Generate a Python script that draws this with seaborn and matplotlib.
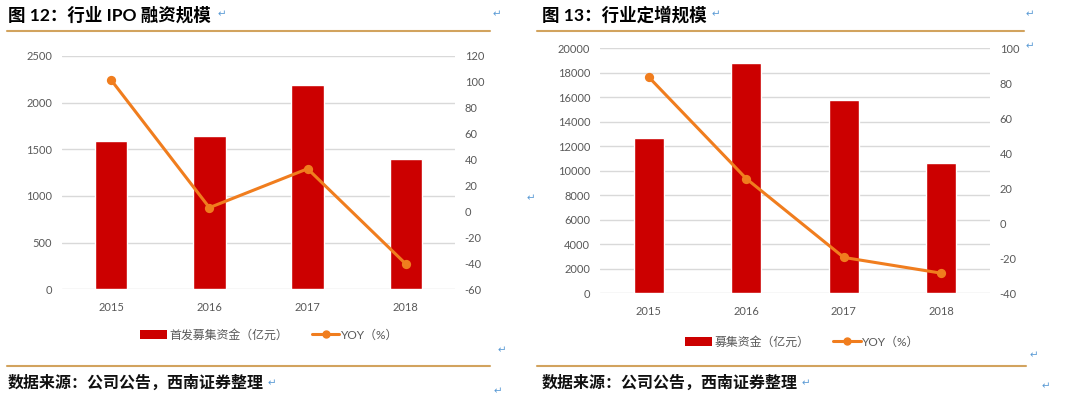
import numpy as np
import pandas as pd
import seaborn as sns
import matplotlib.pyplot as plt
from matplotlib.patches import Patch
from matplotlib.lines import Line2D

# -------------------- Data --------------------
years = ['2015', '2016', '2017', '2018']

ipo_amount = [1588, 1645, 2189, 1392]        # 首发募集资金（亿元）
ipo_yoy = [101.5, 3.0, 33.0, -40.5]          # YOY（%）

placement_amount = [12680, 18780, 15760, 10660]  # 募集资金（亿元）
placement_yoy = [83.5, 25.5, -19.5, -28.5]       # YOY（%）

ipo_ticks = [0, 500, 1000, 1500, 2000, 2500]
ipo_yoy_ticks = [-60, -40, -20, 0, 20, 40, 60, 80, 100, 120]
placement_ticks = list(range(0, 20001, 2000))
placement_yoy_ticks = [-40, -20, 0, 20, 40, 60, 80, 100]

# -------------------- Style --------------------
sns.set_theme(style='white')
plt.rcParams['font.family'] = ['Lato', 'Noto Sans CJK SC', 'DejaVu Sans']
plt.rcParams['axes.unicode_minus'] = False

BAR_RED = '#CC0000'
LINE_ORANGE = '#F07D1E'
GRID = '#D9D9D9'
TICK_GRAY = '#595959'
GOLD = '#D2A35E'
MARK_BLUE = '#5B9BD5'

W, H = 1080, 403
fig = plt.figure(figsize=(W / 100, H / 100), dpi=100)


def px(x, y):
    return x / W, 1 - y / H


def draw_panel(rect, amounts, yoy, yticks, y2ticks, bar_width):
    ax = fig.add_axes(rect)
    df = pd.DataFrame({'year': years, 'amount': amounts, 'yoy': yoy})
    sns.barplot(data=df, x='year', y='amount', ax=ax, color=BAR_RED,
                saturation=1, width=bar_width)
    ax.set_ylim(yticks[0], yticks[-1])
    ax.set_yticks(yticks)
    ax.yaxis.grid(True, color=GRID, lw=1.0)
    ax.set_axisbelow(True)
    ax.set_xlabel('')
    ax.set_ylabel('')
    ax.tick_params(axis='y', length=0, pad=7, labelsize=8, labelcolor=TICK_GRAY)
    ax.tick_params(axis='x', length=0, pad=9, labelsize=8, labelcolor=TICK_GRAY)
    for s in ax.spines.values():
        s.set_visible(False)

    ax2 = ax.twinx()
    sns.pointplot(data=df, x='year', y='yoy', ax=ax2, color=LINE_ORANGE,
                  markers='o', markersize=5, linewidth=2.2)
    ax2.set_ylim(y2ticks[0], y2ticks[-1])
    ax2.set_yticks(y2ticks)
    ax2.set_ylabel('')
    ax2.grid(False)
    ax2.tick_params(axis='y', length=0, pad=7, labelsize=8, labelcolor=TICK_GRAY)
    for s in ax2.spines.values():
        s.set_visible(False)
    return ax, ax2


# Left panel: IPO
draw_panel([62 / W, 1 - 289.3 / H, 393 / W, 233.3 / H],
           ipo_amount, ipo_yoy, ipo_ticks, ipo_yoy_ticks, 0.33)
# Right panel: private placement
draw_panel([600 / W, 1 - 293.3 / H, 390 / W, 245.1 / H],
           placement_amount, placement_yoy, placement_ticks, placement_yoy_ticks, 0.31)

# -------------------- Legends --------------------
def add_legend(x, y, bar_label):
    handles = [Patch(facecolor=BAR_RED, edgecolor='none', label=bar_label),
               Line2D([0], [0], color=LINE_ORANGE, lw=2.2, marker='o', markersize=5,
                      label='YOY（%）')]
    fig.legend(handles=handles, loc='center left', bbox_to_anchor=px(x, y),
               ncol=2, frameon=False, fontsize=8.6, labelcolor=TICK_GRAY,
               handlelength=2.3, handleheight=0.85, handletextpad=0.15,
               columnspacing=2.0, borderpad=0)


add_legend(134, 335, '首发募集资金（亿元）')
add_legend(679, 342, '募集资金（亿元）')

# -------------------- Titles, rules and source --------------------
fig.text(*px(8, 15), '图 12：行业 IPO 融资规模', fontsize=12.6, fontweight='bold',
         color='black', va='center', ha='left')
fig.text(*px(542, 15), '图 13：行业定增规模', fontsize=12.6, fontweight='bold',
         color='black', va='center', ha='left')

for x0, x1, y in [(7, 490, 31), (537, 1024, 31), (7, 490, 366), (537, 1026, 366)]:
    fig.add_artist(Line2D([x0 / W, x1 / W], [1 - y / H, 1 - y / H],
                          transform=fig.transFigure, color=GOLD, lw=1.5))

fig.text(*px(8, 383), '数据来源：公司公告，西南证券整理', fontsize=11.5,
         fontweight='bold', color='#111111', va='center', ha='left')
fig.text(*px(542, 383), '数据来源：公司公告，西南证券整理', fontsize=11.5,
         fontweight='bold', color='#111111', va='center', ha='left')

# Word paragraph marks
for x, y in [(222, 14), (497, 14), (531, 198), (502, 350), (272, 383), (498, 391),
             (716, 14), (1030, 14), (1030, 46), (1034, 355), (806, 383), (1046, 386)]:
    fig.text(*px(x, y), '↵', fontsize=7.5, color=MARK_BLUE, family='DejaVu Sans',
             va='center', ha='center')

fig.savefig('out.png', dpi=100)
